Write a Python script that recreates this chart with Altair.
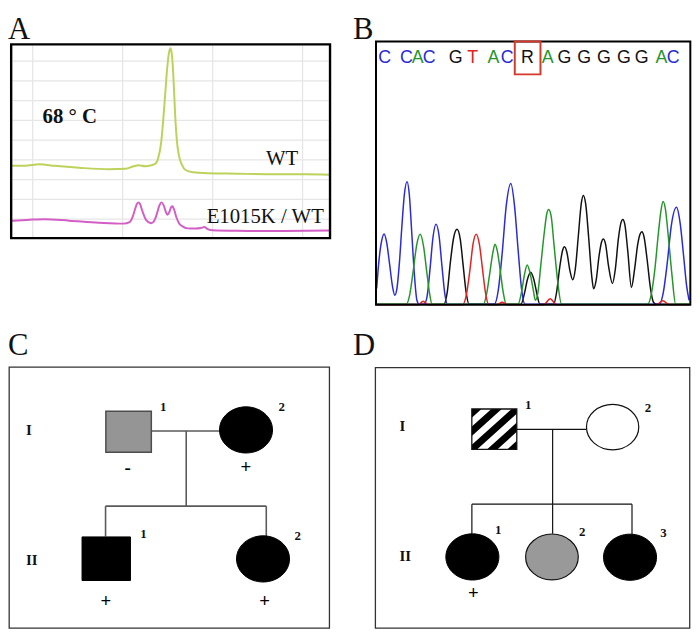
import altair as alt
import pandas as pd

# ---------------- Panel A : melting curves (reference pixel units) ----------------
a_grid_x = [33, 124, 215, 306]
a_grid_y = [58, 78, 98, 118, 138, 158, 178, 198, 218]

wt_x = [12, 25, 40, 55, 80, 110, 127, 135, 140, 147, 153, 157, 160, 163, 165, 167, 169,
        170.8, 172.2, 173.6, 175, 176.3, 177.5, 179, 181, 184, 188, 195, 210, 240, 280, 310, 333]
wt_y = [164, 164, 162.5, 164, 166, 167.5, 167, 164.5, 163.5, 164.5, 163.5, 162, 156, 140, 118,
        92, 66, 50, 45, 50, 68, 95, 120, 140, 154, 163, 168.5, 170.5, 171.5, 172, 172.5, 172.5, 173]

mut_x = [12, 30, 45, 70, 100, 125, 131, 134, 136.5, 138.5, 140, 141.5, 144, 147, 150, 153, 156,
         158.5, 161, 163.3, 165.5, 167.5, 169.3, 171.5, 173, 174.3, 176, 178, 181, 185, 190, 198,
         203, 206.7, 210, 215, 240, 280, 333]
mut_y = [219.5, 218.5, 218, 219.5, 221.5, 222.5, 221, 216, 208, 202.5, 201, 202.5, 210, 217.5,
         221, 222, 219.5, 213, 204.5, 201, 204, 210, 213.5, 210, 206, 205, 208, 215, 222, 225.5,
         227.3, 227.5, 227, 226, 228, 229.3, 229.8, 230, 229.5]

# ---------------- Panel B : chromatogram ----------------
seq_letters = ["C", "C", "A", "C", "G", "T", "A", "C", "R", "A", "G", "G", "G", "G", "G", "A", "C"]
seq_x = [389, 411, 422.5, 434, 461, 478, 499, 513, 533.5, 554, 571, 591, 611, 631, 649, 669, 681]

blue_x = [381, 383, 386, 388.5, 391, 394, 397, 399.3, 401.5, 404, 406.5, 409, 411.7, 414, 416.5,
          419, 421.7, 424, 429, 432, 435, 438, 441, 444, 447, 450, 452.5, 500, 504, 508, 512,
          516.7, 520.5, 524, 527.5, 531, 667, 671, 675, 679, 684.3, 688, 691.5, 694.5, 697]
blue_y = [288, 263, 240, 233, 241, 263, 286, 295, 288, 262, 225, 193, 180, 193, 232, 272, 300,
          304, 304, 296, 268, 236, 223, 234, 265, 294, 304, 304, 290, 252, 205, 182, 205, 248,
          288, 304, 304, 292, 262, 225, 206, 222, 255, 285, 300]

green_x = [381, 411, 414.5, 418, 421.5, 425, 428.5, 431.5, 434.5, 437, 489, 492.5, 495.5, 498.5,
           500.7, 503, 506, 509, 512, 524, 527.5, 530.5, 533.3, 536, 539.5, 541.5, 544, 547,
           550.5, 553, 555, 557.5, 560.5, 564, 568, 655, 659, 662.5, 666, 668.5, 670.7, 673,
           676, 679.5, 683.5, 697]
green_y = [304, 304, 294, 270, 244, 233.3, 246, 270, 293, 304, 304, 292, 272, 252, 243.3, 250,
           270, 292, 304, 304, 292, 274, 264.3, 272, 290, 300, 293, 265, 232, 213, 208.3, 215,
           245, 280, 304, 304, 293, 268, 232, 210, 200, 207, 235, 272, 304, 304]

red_x = [381, 423, 428, 433, 468, 472, 475.5, 478.5, 481.7, 485, 488, 491, 494.5, 503, 508, 513,
         550, 556.5, 563, 664, 670.5, 677, 697]
red_y = [304.5, 304.5, 301, 304.5, 304.5, 293, 268, 243, 233.3, 244, 268, 292, 304.5, 304.5,
         302, 304.5, 304.5, 298.5, 304.5, 304.5, 300.5, 304.5, 304.5]

black_x = [381, 449, 452.5, 455.5, 459, 462.3, 465.5, 468.5, 471.5, 474.5, 527, 530.5, 533.5,
           536.7, 540, 543, 546, 560, 563, 566, 569, 571, 573.5, 576.5, 579.3, 582, 585, 588,
           590, 592.5, 595.5, 598.5, 600.5, 603, 606, 608.5, 610.3, 612.5, 615.5, 619.5, 622.5,
           625.5, 628.3, 630, 632, 635, 638.7, 642, 645, 647.5, 649.3, 651.5, 654.5, 658, 661,
           664, 697]
black_y = [304, 304, 291, 262, 236, 228.3, 238, 265, 292, 304, 304, 293, 279, 271.7, 279, 293,
           304, 304, 292, 268, 250, 246, 252, 270, 279.3, 268, 235, 202, 194, 203, 237, 275,
           288.5, 280, 255, 241, 238, 243, 265, 283, 268, 238, 221, 218.3, 223, 250, 287, 268,
           244, 233, 230.7, 236, 258, 288, 302, 304, 304]

# ---------------- Panels C, D : pedigrees ----------------
ped_panel = ["C", "C", "C", "C", "D", "D", "D", "D", "D"]
ped_gen = ["I", "I", "II", "II", "I", "I", "II", "II", "II"]
ped_num = ["1", "2", "1", "2", "1", "2", "1", "2", "3"]
ped_sex = ["M", "F", "M", "F", "M", "F", "F", "F", "F"]
ped_status = ["grey", "black", "black", "black", "hatched", "white", "black", "grey", "black"]
ped_x = [130, 248.8, 107.4, 266, 500, 619.7, 477.8, 558.3, 637.3]
ped_y = [433, 431.2, 561.5, 561.7, 430.5, 428.3, 559.7, 559.7, 560]
ped_num_x = [165, 285, 145, 301, 534.3, 655.5, 504, 589, 671]
ped_num_y = [412, 412, 541, 543, 410, 413.3, 537, 538.3, 540]
ped_geno = ["-", "+", "+", "+", "", "", "+", "", ""]
ped_geno_x = [129, 248.7, 107, 267.5, 0, 0, 478.7, 0, 0]
ped_geno_y = [475.5, 474.5, 610.5, 610.5, 0, 0, 602, 0, 0]

seg_panel = ["C"] * 5 + ["D"] * 6
seg_x = [153.3, 188.3, 106.7, 106.7, 269.3, 522.7, 559, 477.3, 477.3, 559, 639.3]
seg_x2 = [221.7, 188.3, 269.3, 106.7, 269.3, 593.3, 559, 639.3, 477.3, 559, 639.3]
seg_y = [432.3, 432.3, 508.3, 508.3, 508.3, 430.7, 430.7, 506.3, 506.3, 506.3, 506.3]
seg_y2 = [432.3, 508.3, 508.3, 539, 538.5, 430.7, 506.3, 506.3, 536.5, 536.3, 536.7]

gen_label = ["I", "II", "I", "II"]
gen_label_x = [29, 32, 407, 410]
gen_label_y = [436, 568, 432, 563.5]

panel_letters = ["A", "B", "C", "D"]
panel_letter_x = [8, 357, 8, 357]
panel_letter_y = [36, 36, 355, 355]

# frames: x, x2, y, y2
frame_a = [11.2, 333.8, 41.2, 237.2]
frame_b = [380.3, 698.3, 38.3, 304.5]
frame_r = [520.7, 546.7, 38.3, 71.5]
frame_cd = {"x": [9.2, 379.7], "x2": [333.2, 697.7], "y": [367.7, 368.2], "y2": [631.7, 631.7]}

# ---------------- helpers ----------------
XS = alt.Scale(domain=[8, 700], nice=False, zero=False)
YS = alt.Scale(domain=[8, 633], nice=False, zero=False, reverse=True)


def X(f="x"):
    return alt.X(f"{f}:Q", scale=XS, axis=None)


def Y(f="y"):
    return alt.Y(f"{f}:Q", scale=YS, axis=None)


def frame(vals, **kw):
    df = pd.DataFrame({"x": [vals[0]], "x2": [vals[1]], "y": [vals[2]], "y2": [vals[3]]})
    return alt.Chart(df).mark_rect(fill="transparent", **kw).encode(
        x=X(), x2="x2:Q", y=Y(), y2="y2:Q")


# hatched glyph (diagonal stripes) as a custom symbol path
R_SQ = 0.9


def clip(poly, f):
    out = []
    n = len(poly)
    for i in range(n):
        p, q = poly[i], poly[(i + 1) % n]
        fp, fq = f(p), f(q)
        if fp >= 0:
            out.append(p)
        if (fp >= 0) != (fq >= 0):
            t = fp / (fp - fq)
            out.append((p[0] + t * (q[0] - p[0]), p[1] + t * (q[1] - p[1])))
    return out


hatch_parts = []
for cc in [-0.9, -0.45, 0.0, 0.45, 0.9]:
    c0, c1 = cc - 0.115, cc + 0.115
    poly = [(0, 0), (1, 0), (1, 1), (0, 1)]
    poly = clip(poly, lambda p, c0=c0: (p[0] - p[1]) - c0)
    poly = clip(poly, lambda p, c1=c1: c1 - (p[0] - p[1]))
    if len(poly) >= 3:
        pts = ["%.3f,%.3f" % (2 * u - 1, R_SQ * (1 - 2 * v)) for u, v in poly]
        hatch_parts.append("M" + "L".join(pts) + "Z")
HATCH = "".join(hatch_parts)
RECT = "M-1,-%.2fL1,-%.2fL1,%.2fL-1,%.2fZ" % (R_SQ, R_SQ, R_SQ, R_SQ)
ELL = "M-1,0A1,0.87,0,1,0,1,0A1,0.87,0,1,0,-1,0Z"

layers = []

# ---- Panel A ----
gv = pd.DataFrame({"x": a_grid_x, "y": 42, "y2": 236.5})
gh = pd.DataFrame({"y": a_grid_y, "x": 12.5, "x2": 332.5})
layers.append(alt.Chart(gv).mark_rule(color="#e6e6e6", strokeWidth=1.3).encode(
    x=X(), y=Y(), y2="y2:Q"))
layers.append(alt.Chart(gh).mark_rule(color="#e6e6e6", strokeWidth=1.3).encode(
    x=X(), x2="x2:Q", y=Y()))
curves = pd.concat([
    pd.DataFrame({"series": "WT", "x": wt_x, "y": wt_y}),
    pd.DataFrame({"series": "E1015K / WT", "x": mut_x, "y": mut_y}),
])
layers.append(alt.Chart(curves).mark_line(interpolate="monotone", strokeWidth=2).encode(
    x=X(), y=Y(), detail="series:N",
    stroke=alt.Stroke("series:N", legend=None,
                      scale=alt.Scale(domain=["WT", "E1015K / WT"], range=["#bcd25a", "#d35ec6"]))))
layers.append(frame(frame_a, stroke="#000000", strokeWidth=2.4))
a_txt = pd.DataFrame({"t": ["WT", "E1015K / WT"], "x": [269, 209], "y": [163, 222]})
layers.append(alt.Chart(a_txt).mark_text(font="Liberation Serif", fontSize=21, align="left",
                                         baseline="alphabetic", fill="#111111").encode(
    x=X(), y=Y(), text="t:N"))
a_tmp = pd.DataFrame({"t": ["68 \u00b0 C"], "x": [43], "y": [121]})
layers.append(alt.Chart(a_tmp).mark_text(font="Liberation Serif", fontSize=21, fontWeight="bold",
                                         align="left", baseline="alphabetic", fill="#111111").encode(
    x=X(), y=Y(), text="t:N"))

# ---- Panel B ----
traces = pd.concat([
    pd.DataFrame({"dye": "G", "x": black_x, "y": black_y}),
    pd.DataFrame({"dye": "C", "x": blue_x, "y": blue_y}),
    pd.DataFrame({"dye": "A", "x": green_x, "y": green_y}),
    pd.DataFrame({"dye": "T", "x": red_x, "y": red_y}),
])
dye_domain = ["A", "C", "G", "T", "R"]
dye_range = ["#25962b", "#2a2ad6", "#111111", "#e02424", "#111111"]
layers.append(alt.Chart(traces).mark_line(interpolate="monotone", strokeWidth=1.5).encode(
    x=X(), y=Y(), detail="dye:N", order=alt.Order("x:Q"),
    stroke=alt.Stroke("dye:N", legend=None,
                      scale=alt.Scale(domain=dye_domain, range=dye_range))))
layers.append(frame(frame_b, stroke="#000000", strokeWidth=2))
layers.append(frame(frame_r, stroke="#d43a2a", strokeWidth=2))
seq = pd.DataFrame({"base": seq_letters, "x": seq_x, "y": 60})
layers.append(alt.Chart(seq).mark_text(font="Liberation Sans", fontSize=18, align="center",
                                       baseline="alphabetic").encode(
    x=X(), y=Y(), text="base:N",
    fill=alt.Fill("base:N", legend=None,
                  scale=alt.Scale(domain=dye_domain, range=dye_range))))

# ---- Panels C, D ----
ped = pd.DataFrame({"panel": ped_panel, "gen": ped_gen, "num": ped_num, "sex": ped_sex,
                    "status": ped_status, "x": ped_x, "y": ped_y, "nx": ped_num_x,
                    "ny": ped_num_y, "geno": ped_geno, "gx": ped_geno_x, "gy": ped_geno_y})
segs = pd.DataFrame({"panel": seg_panel, "x": seg_x, "x2": seg_x2, "y": seg_y, "y2": seg_y2})

layers.append(alt.Chart(segs).transform_filter("datum.panel == 'C'").mark_rule(
    color="#5a5a5a", strokeWidth=1.6).encode(x=X(), x2="x2:Q", y=Y(), y2="y2:Q"))
layers.append(alt.Chart(segs).transform_filter("datum.panel == 'D'").mark_rule(
    color="#111111", strokeWidth=1.2).encode(x=X(), x2="x2:Q", y=Y(), y2="y2:Q"))


def person(filt, shape, size, fill, stroke, sw):
    return alt.Chart(ped).transform_filter(filt).mark_point(
        shape=shape, size=size, filled=True, fill=fill, stroke=stroke, strokeWidth=sw,
        opacity=1).encode(x=X(), y=Y())


layers.append(person("datum.panel == 'C' && datum.gen == 'I' && datum.sex == 'M'",
                     RECT, 2116, "#959595", "#4d4d4d", 1.5))
layers.append(person("datum.panel == 'C' && datum.gen == 'II' && datum.sex == 'M'",
                     RECT, 2401, "#000000", "#000000", 1))
layers.append(person("datum.sex == 'F' && datum.status == 'black'",
                     ELL, 2880, "#000000", "#000000", 1))
layers.append(person("datum.sex == 'F' && datum.status == 'white'",
                     ELL, 2800, "#ffffff", "#111111", 1.2))
layers.append(person("datum.sex == 'F' && datum.status == 'grey'",
                     ELL, 2840, "#999999", "#111111", 1.2))
layers.append(alt.Chart(ped).transform_filter("datum.status == 'hatched'").mark_point(
    shape=HATCH, size=2070, filled=True, fill="#000000", strokeWidth=0, opacity=1).encode(
    x=X(), y=Y()))
layers.append(alt.Chart(ped).transform_filter("datum.status == 'hatched'").mark_point(
    shape=RECT, size=2070, filled=False, stroke="#111111", strokeWidth=1.3, opacity=1).encode(
    x=X(), y=Y()))

cd = pd.DataFrame(frame_cd)
layers.append(alt.Chart(cd).mark_rect(fill="transparent", stroke="#333333", strokeWidth=1.3).encode(
    x=X(), x2="x2:Q", y=Y(), y2="y2:Q"))

layers.append(alt.Chart(ped).mark_text(font="Liberation Serif", fontSize=13, fontWeight="bold",
                                       align="center", baseline="alphabetic", fill="#111111").encode(
    x=X("nx"), y=Y("ny"), text="num:N"))
layers.append(alt.Chart(ped).transform_filter("datum.geno != ''").mark_text(
    font="Liberation Serif", fontSize=19, fontWeight="bold", align="center",
    baseline="alphabetic", fill="#000000").encode(x=X("gx"), y=Y("gy"), text="geno:N"))
gl = pd.DataFrame({"t": gen_label, "x": gen_label_x, "y": gen_label_y})
layers.append(alt.Chart(gl).mark_text(font="Liberation Serif", fontSize=15, fontWeight="bold",
                                      align="center", baseline="alphabetic", fill="#111111").encode(
    x=X(), y=Y(), text="t:N"))

pl = pd.DataFrame({"t": panel_letters, "x": panel_letter_x, "y": panel_letter_y})
layers.append(alt.Chart(pl).mark_text(font="Liberation Serif", fontSize=31, align="left",
                                      baseline="alphabetic", fill="#111111").encode(
    x=X(), y=Y(), text="t:N"))

chart = alt.layer(*layers).resolve_scale(stroke="independent", fill="independent").properties(
    width=692, height=625, padding=0, background="#ffffff",
    autosize=alt.AutoSizeParams(type="none"),
).configure_view(strokeWidth=0)

chart.save("out.html", embed_options={"renderer": "svg", "actions": False})
